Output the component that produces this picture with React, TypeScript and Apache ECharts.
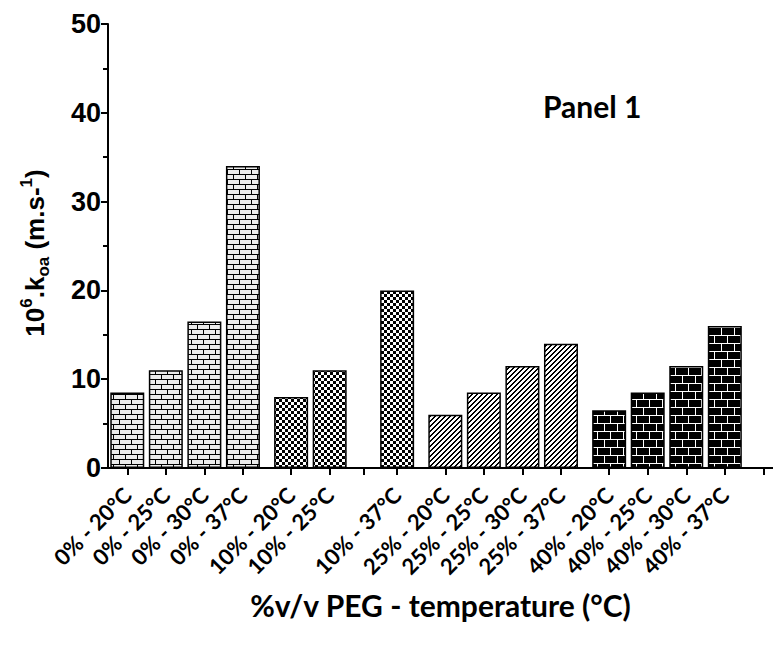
import React, { useEffect, useRef } from "react";
import * as echarts from "echarts";

// ---- data ----
const categories = [
  "0% - 20°C", "0% - 25°C", "0% - 30°C", "0% - 37°C",
  "10% - 20°C", "10% - 25°C", "10% - 37°C",
  "25% - 20°C", "25% - 25°C", "25% - 30°C", "25% - 37°C",
  "40% - 20°C", "40% - 25°C", "40% - 30°C", "40% - 37°C",
];
const values = [8.5, 11, 16.5, 34, 8, 11, 20, 6, 8.5, 11.5, 14, 6.5, 8.5, 11.5, 16];
const peg = ["0%", "0%", "0%", "0%", "10%", "10%", "10%", "25%", "25%", "25%", "25%", "40%", "40%", "40%", "40%"];
const yTickValues = [0, 10, 20, 30, 40, 50];

// ---- layout (category slot indices on a fine category axis) ----
const SLOT_COUNT = 139;
const SLOT_POS = [4, 12, 20, 28, 38, 46, 60, 70, 78, 86, 94, 104, 112, 120, 128];
const EMPTY_TICKS = [53, 136];

function makeCanvas(w: number, h: number, draw: (ctx: CanvasRenderingContext2D) => void) {
  const c = document.createElement("canvas");
  c.width = w;
  c.height = h;
  const ctx = c.getContext("2d")!;
  draw(ctx);
  return c;
}

function patterns() {
  const lightBrick = makeCanvas(24, 10, (ctx) => {
    ctx.fillStyle = "#ececec";
    ctx.fillRect(0, 0, 24, 10);
    ctx.fillStyle = "#000";
    ctx.fillRect(0, 4, 24, 1);
    ctx.fillRect(0, 9, 24, 1);
    ctx.fillRect(11, 0, 1, 5);
    ctx.fillRect(23, 0, 1, 5);
    ctx.fillRect(5, 5, 1, 5);
    ctx.fillRect(17, 5, 1, 5);
  });
  const checker = makeCanvas(6, 6, (ctx) => {
    ctx.fillStyle = "#fff";
    ctx.fillRect(0, 0, 6, 6);
    ctx.fillStyle = "#000";
    ctx.fillRect(0, 0, 3, 3);
    ctx.fillRect(3, 3, 3, 3);
  });
  const hatch = makeCanvas(5, 5, (ctx) => {
    ctx.fillStyle = "#fff";
    ctx.fillRect(0, 0, 5, 5);
    ctx.fillStyle = "#000";
    for (let x = 0; x < 5; x++)
      for (let y = 0; y < 5; y++) if ((x + y) % 5 < 2) ctx.fillRect(x, y, 1, 1);
  });
  const darkBrick = makeCanvas(26, 16, (ctx) => {
    ctx.fillStyle = "#000";
    ctx.fillRect(0, 0, 26, 16);
    ctx.fillStyle = "#fff";
    ctx.fillRect(0, 7, 26, 1);
    ctx.fillRect(0, 15, 26, 1);
    ctx.fillRect(12, 0, 1, 8);
    ctx.fillRect(25, 0, 1, 8);
    ctx.fillRect(6, 8, 1, 8);
    ctx.fillRect(19, 8, 1, 8);
  });
  const mk = (c: HTMLCanvasElement) => ({
    image: c,
    repeat: "repeat",
    imageWidth: c.width,
    imageHeight: c.height,
  });
  return {
    "0%": mk(lightBrick),
    "10%": mk(checker),
    "25%": mk(hatch),
    "40%": mk(darkBrick),
  } as Record<string, any>;
}

export default function App() {
  const ref = useRef<HTMLDivElement>(null);

  useEffect(() => {
    if (!ref.current) return;
    const chart = echarts.init(ref.current, null, { renderer: "svg" });
    const pats = patterns();

    const axisData: string[] = new Array(SLOT_COUNT).fill("");
    SLOT_POS.forEach((p, i) => (axisData[p] = categories[i]));
    const labelSet = new Set(SLOT_POS);
    const tickSet = new Set([...SLOT_POS, ...EMPTY_TICKS]);

    const data = values.map((v, i) => ({
      value: [SLOT_POS[i], v],
      itemStyle: {
        color: pats[peg[i]],
        borderColor: "#000",
        borderWidth: 1.5,
      },
    }));

    chart.setOption({
      animation: false,
      grid: { left: 108, top: 24, width: 665, bottom: 178 },
      xAxis: {
        type: "category",
        data: axisData,
        boundaryGap: false,
        axisLine: { lineStyle: { color: "#000", width: 2 } },
        axisTick: {
          length: 7,
          lineStyle: { color: "#000", width: 2 },
          interval: (idx: number) => tickSet.has(idx),
        },
        axisLabel: {
          interval: (idx: number) => labelSet.has(idx),
          rotate: 45,
          margin: 23,
          color: "#000",
          fontFamily: "Lato",
          fontWeight: "bold",
          fontSize: 22,
        },
        splitLine: { show: false },
        name: "%v/v PEG - temperature (°C)",
        nameLocation: "middle",
        nameGap: 122,
        nameTextStyle: {
          color: "#000",
          fontFamily: "Lato",
          fontWeight: "bold",
          fontSize: 30,
          verticalAlign: "top",
        },
      },
      yAxis: {
        type: "value",
        min: yTickValues[0],
        max: yTickValues[yTickValues.length - 1],
        interval: 10,
        axisLine: { show: true, lineStyle: { color: "#000", width: 2 } },
        axisTick: { show: true, length: 7, lineStyle: { color: "#000", width: 2 } },
        minorTick: { show: true, splitNumber: 2, length: 5, lineStyle: { color: "#000", width: 2 } },
        splitLine: { show: false },
        axisLabel: {
          margin: 7,
          color: "#000",
          fontFamily: "Liberation Sans",
          fontWeight: "bold",
          fontSize: 27,
        },
        name: "{a|10}{sup|6}{a|.k}{sub|oa}{a| (m.s-}{sup|1}{a|)}",
        nameLocation: "middle",
        nameGap: 56,
        nameTextStyle: {
          color: "#000",
          fontFamily: "Liberation Sans",
          fontWeight: "bold",
          fontSize: 26,
          padding: [0, 14, 0, 0],
          rich: {
            a: { fontFamily: "Liberation Sans", fontWeight: "bold", fontSize: 26, color: "#000", lineHeight: 34, verticalAlign: "middle" },
            sup: { fontFamily: "Liberation Sans", fontWeight: "bold", fontSize: 17, color: "#000", lineHeight: 34, verticalAlign: "top" },
            sub: { fontFamily: "Liberation Sans", fontWeight: "bold", fontSize: 17, color: "#000", lineHeight: 34, verticalAlign: "bottom" },
          },
        },
      },
      graphic: [
        {
          type: "text",
          left: 543,
          top: 91,
          style: {
            text: "Panel 1",
            fill: "#000",
            fontFamily: "Lato",
            fontWeight: "bold",
            fontSize: 30,
          },
        },
      ],
      series: [
        {
          type: "bar",
          barWidth: 34,
          data,
        },
      ],
    });

    return () => chart.dispose();
  }, []);

  return (
    <div
      ref={ref}
      style={{ position: "absolute", left: 0, top: 0, width: 773, height: 646 }}
    />
  );
}
